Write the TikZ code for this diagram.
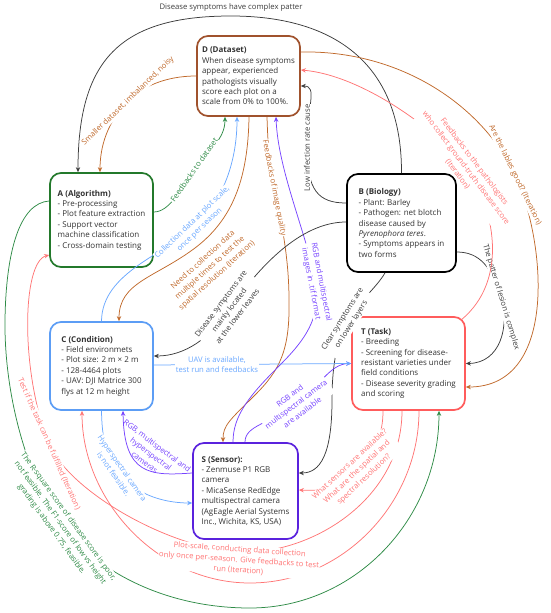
\documentclass[tikz,border=0pt]{standalone}
\usepackage{fontspec}
\setmainfont{Open Sans}
\usetikzlibrary{arrows.meta}
\definecolor{cD}{HTML}{A0522D}
\definecolor{cBr}{HTML}{C0692B}
\definecolor{cA}{HTML}{23792B}
\definecolor{cGr}{HTML}{2E8B46}
\definecolor{cC}{HTML}{5C9DF5}
\definecolor{cBl}{HTML}{6AA8FF}
\definecolor{cT}{HTML}{FF5C5C}
\definecolor{cRd}{HTML}{FF7575}
\definecolor{cS}{HTML}{5A22DD}
\definecolor{cPu}{HTML}{7744FF}
\definecolor{cGy}{HTML}{3C3C3C}
\definecolor{txt}{HTML}{333333}
\tikzset{
 box/.style={draw=#1, line width=1.7pt, rounded corners=11pt, fill=white, align=left,
   inner xsep=3pt, inner ysep=3pt, font=\fontsize{8.0}{10.4}\selectfont, text=txt},
 lbl/.style={fill=white, inner sep=0.8pt, align=center, font=\fontsize{7.7}{10.4}\selectfont},
 con/.style={line width=0.75pt},
 gry/.style={con, draw=cGy},
 brn/.style={con, draw=cBr},
 grn/.style={con, draw=cGr},
 blu/.style={con, draw=cBl},
 red1/.style={con, draw=cRd},
 pur/.style={con, draw=cPu}
}
\begin{document}
\begin{tikzpicture}[x=1pt,y=-1pt,>={Stealth[length=5pt,width=4.4pt]}]
\useasboundingbox (0,0) rectangle (550,613);

% boxes
\node[box=cD, minimum width=103pt, minimum height=80pt] (D) at (248.5,76)
 {\textbf{D (Dataset)}\\When disease symptoms\\appear, experienced\\pathologists visually\\score each plot on a\\scale from 0\% to 100\%.};
\node[box=cA, minimum width=103pt, minimum height=94pt] (A) at (101.5,220)
 {\textbf{A (Algorithm)}\\- Pre-processing\\- Plot feature extraction\\- Support vector\\machine classification\\- Cross-domain testing};
\node[box=black, minimum width=109pt, minimum height=98pt] (B) at (401.5,223)
 {\textbf{B (Biology)}\\- Plant: Barley\\- Pathogen: net blotch\\disease caused by\\\textit{Pyrenophora teres}.\\- Symptoms appears in\\two forms};
\node[box=cC, minimum width=103pt, minimum height=88pt] (C) at (101.5,366)
 {\textbf{C (Condition)}\\- Field environmets\\- Plot size: 2 m × 2 m\\- 128-4464 plots\\- UAV: DJI Matrice 300\\flys at 12 m height};
\node[box=cT, minimum width=113pt, minimum height=93pt] (T) at (408.5,363.5)
 {\textbf{T (Task)}\\- Breeding\\- Screening for disease-\\resistant varieties under\\field conditions\\- Disease severity grading\\and scoring};
\node[box=cS, minimum width=105pt, minimum height=96pt] (S) at (245.5,491)
 {\textbf{S (Sensor):}\\- Zenmuse P1 RGB\\camera\\- MicaSense RedEdge\\multispectral camera\\(AgEagle Aerial Systems\\Inc., Wichita, KS, USA)};

% 1 gray big arc B -> A
\draw[gry,->] (B.north) .. controls (402,60) and (330,16) .. (231,16) .. controls (120,16) and (78,60) .. ([xshift=-23.5pt]A.north);
\node[lbl, fill=none, text=cGy] (l1) at (231,7) {Disease symptoms have complex patter};

% 2 brown D -> A
\draw[brn,->] (D.west) .. controls (165,76) and (142,87) .. (128,101)
  node[lbl,text=cBr,rotate=44] (l2) {Smaller dataset, imbalanced, noisy}
  .. controls (112,117) and (100,140) .. ([xshift=-1.5pt]A.north);

% 3 green A -> D
\draw[grn,->] ([yshift=8pt]A.east) .. controls (170,212) and (182,187) .. (194,170)
  node[lbl,text=cGr,rotate=55] (l3) {Feedbacks to dataset}
  .. controls (208,150) and (225,140) .. ([xshift=-23.5pt]D.south);

% 4 blue C -> D
\draw[blu,->] (C.north) .. controls (102,272) and (166,254) .. (196,226)
  node[lbl,text=cBl,rotate=44] (l4) {Collection data at plot scale,\\ once per season}
  .. controls (224,199) and (237,160) .. ([xshift=-11.5pt]D.south);

% 5 brown D -> C
\draw[brn,->] ([xshift=0.5pt]D.south) .. controls (248,180) and (232,220) .. (195,248) .. controls (155,278) and (119,282) .. ([xshift=17.5pt]C.north);
\node[lbl, fill=none, text=cBr, rotate=42] (l5) at (210,268) {Need to collection data\\ multiple times to test the\\ spatial resolution (Iteration)};

% 6 brown D -> S
\draw[brn,->] ([xshift=18.5pt]D.south) .. controls (268,150) and (270,168) .. (274,188)
  node[lbl,text=cBr,rotate=-79] (l6) {Feedbacks of image quality}
  .. controls (278,208) and (289,250) .. (289,300) .. controls (290,350) and (280,370) .. (255,395)
  .. controls (230,420) and (223,425) .. ([xshift=-22.5pt]S.north);

% 7 purple S -> D
\draw[pur,<-] ([xshift=27.5pt]D.south) .. controls (278,170) and (306,232) .. (316,283)
  node[lbl,text=cPu,rotate=-79] (l7) {RGB and multispectral\\ images in .tif format}
  .. controls (321,318) and (305,340) .. (280,365) .. controls (250,395) and (233,415) .. ([xshift=-12.5pt]S.north);

% 9 gray B -> C
\draw[gry,->] ([yshift=1pt]B.west) .. controls (300,222) and (258,268) .. (229,310)
  node[lbl,text=cGy,rotate=53] (l9) {Disease symptoms are\\ mainly located\\ at the lower leaves}
  .. controls (210,338) and (185,356) .. ([yshift=10pt]C.east);

% 10 gray B -> S
\draw[gry,->] ([xshift=-16.5pt]B.south) .. controls (377,287) and (360,300) .. (347,322)
  node[lbl,text=cGy,rotate=58] (l10) {Clear symptoms are\\ on lower layers}
  .. controls (337,340) and (332,365) .. (332,400) .. controls (332,455) and (320,473) .. ([yshift=18pt]S.east);

% 11 gray B -> D
\draw[gry,->] ([yshift=20pt]B.west) .. controls (318,203) and (307,190) .. (307,148)
  node[lbl,text=cGy,rotate=90] (l11) {Low infection rate cause}
  .. controls (307,106) and (318,86) .. ([yshift=-10pt]D.east);

% 12 gray B -> T
\draw[gry,->] ([yshift=-29pt]B.east) .. controls (480,252) and (492,268) .. (501,297)
  node[lbl,text=cGy,rotate=-73] (l12) {The patter of lesion is complex}
  .. controls (510,327) and (500,363) .. (T.east);

% 13 red T -> D
\draw[red1,<-] ([yshift=6pt]D.east) .. controls (360,75) and (436,128) .. (466,168)
  node[lbl,text=cRd,rotate=-53] (l13) {Feedbacks to the pathologists\\ who collect ground-truth disease score\\ (Iteration)}
  .. controls (494,206) and (510,280) .. ([xshift=-5pt,yshift=-4pt]T.north east);

% 14 brown D -> T
\draw[brn,->] ([yshift=24pt]D.east) .. controls (400,50) and (482,105) .. (515,175)
  node[lbl,text=cBr,rotate=-64] (l14) {Are the lables good? (Iteration)}
  .. controls (545,238) and (560,387) .. ([yshift=-23.5pt]T.east);

% 15 red T -> A (inner arc)
\draw[red1,<-] ([yshift=-35pt]A.west) .. controls (22,262) and (20,372) .. (49,444)
  node[lbl,text=cRd,rotate=-66] (l15) {Test if the task can be fulfilled (Iteration)}
  .. controls (70,492) and (170,549) .. (240,552) .. controls (310,555) and (402,500) .. ([xshift=-6.5pt]T.south);

% 17 red T -> C (outer arc)
\draw[red1,->] ([xshift=10.5pt]T.south) .. controls (419,503) and (343,583) .. (250,583) .. controls (157,583) and (82,500) .. ([xshift=-19.5pt]C.south);
\node[lbl,text=cRd,rotate=-4] (l16) at (239,560) {Plot-scale, conducting data collection\\ only once per-season. Give feedbacks to test\\ run (Iteration)};

% 18 red T -> S
\draw[red1,->] ([xshift=-25.5pt]T.south) .. controls (383,435) and (375,452) .. (357,472)
  node[lbl,text=cRd,rotate=43] (l17) {What sensors are available?\\ What are the spatial and\\ spectral resolution?}
  .. controls (340,490) and (320,491) .. ([yshift=1pt]S.east);

% 19 green A -> T
\draw[grn,->] ([yshift=19pt]A.west) .. controls (20,203) and (6,250) .. (5,320) .. controls (4,400) and (30,482) .. (60,523)
  node[lbl,text=cGr,rotate=-54] (l18) {The R-square score of disease score is poor,\\ not feasible. The F1-score of low vs height\\ grading is above 0.75, feasible.}
  .. controls (92,567) and (160,608) .. (250,608) .. controls (355,608) and (439,519) .. ([xshift=30.5pt]T.south);

% 21 purple S -> C
\draw[pur,->] ([yshift=18pt]S.west) .. controls (150,476) and (124,475) .. ([xshift=21.5pt]C.south);
\node[lbl,fill=none,text=cPu,rotate=-37] (l20) at (151,454) {RGB, multispectral and\\ hyperspectral\\ cameras};

% 20 blue C -> S
\draw[blu,->] (C.south) .. controls (102,440) and (106,452) .. (118,471)
  node[lbl,text=cBl,rotate=-55] (l19) {Hyperspectral camera\\ is not feasible.}
  .. controls (132,492) and (160,503) .. ([yshift=-12pt]S.west);

% 22 purple S -> T
\draw[pur,->] ([xshift=-0.5pt]S.north) .. controls (245,425) and (270,424) .. (296,404)
  node[lbl,text=cPu,rotate=37] (l21) {RGB and\\ multispectral camera\\ are available}
  .. controls (320,386) and (330,364) .. (T.west);

% 8 blue C -> T
\draw[blu,->] ([yshift=1pt]C.east) -- node[lbl,text=cBl,pos=0.32] (l8) {UAV is available,\\ test run and feedbacks} (T.west);
\end{tikzpicture}
\end{document}
